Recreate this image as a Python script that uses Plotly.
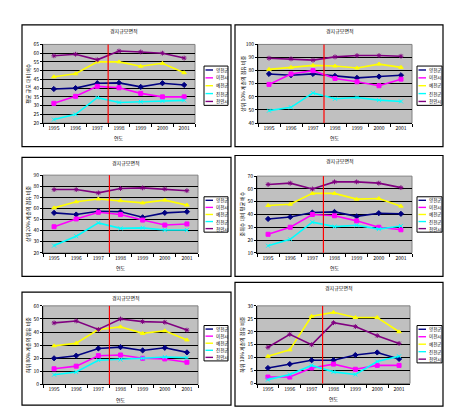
import plotly.graph_objects as go

W, H = 454, 408
FONT = "Noto Sans CJK KR, Noto Sans, sans-serif"

years = ["1995", "1996", "1997", "1998", "1999", "2000", "2001"]
regions = ["양천군", "이천시", "예천군", "진천군", "천안시"]
colors = ["#000080", "#FF00FF", "#FFFF00", "#00FFFF", "#800080"]
symbols = ["diamond", "square", "triangle-up", "x-thin", "asterisk"]

titles = ["경지규모면적", "경지규모면적", "경지규모면적", "경지규모면적", "경지규모면적", "경지규모면적"]
ytitles = ["평균 규모 대비 배수", "상위 10% 계층의 점유 비중", "상위 20% 계층의 점유 비중",
           "중위수 대비 평균 배수", "하위 80% 계층의 점유 비중", "하위 10% 계층의 점유 비중"]
xtitle = "연도"

# panel 1
p1 = [[39.5, 40, 42.8, 43, 40.7, 42.8, 41.8],
      [31.3, 35.3, 41, 40.2, 37, 35, 35],
      [46.5, 48.2, 55, 55, 52.5, 54.2, 48.8],
      [22, 25, 34.5, 31.8, 32.2, 32.6, 33],
      [58.5, 59.4, 56.2, 61.2, 60.7, 60, 57.2]]
# panel 2
p2 = [[77.5, 76.5, 77.5, 76, 74.5, 75.5, 76.5],
      [69.5, 77.5, 80, 74, 71.5, 68.5, 73.5],
      [81, 82.5, 84, 83.5, 82, 85, 82.5],
      [49.5, 52, 63, 58.5, 59.5, 57.5, 56.5],
      [89.5, 89, 88, 90.5, 91.5, 91.5, 91]]
# panel 3
p3 = [[56, 54.5, 57.5, 57, 52, 56, 57],
      [43.5, 50.5, 56.5, 54.5, 49.5, 45, 46],
      [60.5, 66, 68.5, 67, 65, 67.5, 63],
      [26.5, 35, 47, 42, 42.5, 40.5, 40.5],
      [77, 77, 74, 78, 78.5, 77.5, 76]]
# panel 4
p4 = [[36.5, 38, 41.5, 42, 38.5, 41, 40.5],
      [24.5, 30, 40, 39, 35, 30, 28],
      [47, 48, 56.5, 56.5, 52, 52.5, 46.5],
      [15.5, 20.5, 34, 30.5, 31.5, 28.5, 31],
      [63.5, 64.5, 60, 65.5, 65.5, 64.5, 61]]
# panel 5
p5 = [[20, 22, 27.5, 28.5, 26, 28, 24.5],
      [12, 14, 22, 22.5, 20, 19.5, 17],
      [29.5, 31.5, 42, 44, 39, 41, 34],
      [7.5, 9.5, 18.5, 19, 20, 21, 20.5],
      [47, 48.5, 42, 50, 48, 47.5, 41.5]]
# panel 6
p6 = [[6, 7.5, 9, 9, 11, 12, 9.5],
      [2.5, 2.5, 6, 7.5, 5.5, 7, 7],
      [10.5, 13, 26, 27.5, 25.5, 25.5, 20],
      [1.5, 3.5, 7, 4.5, 3.5, 8.5, 10.5],
      [14, 19, 15, 23.5, 22, 18.5, 15.5]]

panel_data = [p1, p2, p3, p4, p5, p6]
yranges = [(20, 65, 5), (40, 100, 10), (20, 90, 10), (10, 70, 10), (0, 60, 10), (0, 30, 5)]

# layout geometry (pixels)
plot_px = [(35, 187, 33, 113), (250, 404, 33, 113),
           (35, 190, 166, 245), (249, 404, 167, 245),
           (35, 190, 299, 379), (249, 402, 299, 378)]
box_px = [(14, 223, 13, 137), (227, 435, 13, 137),
          (14, 223, 148, 269), (227, 435, 146, 269),
          (14, 223, 285, 400), (227, 435, 275, 401)]
legend_px = [(196, 220, 55, 95), (409, 434, 55, 95),
             (196, 220, 188, 224), (409, 434, 188, 224),
             (196, 220, 319, 355), (409, 434, 319, 357)]


def fx(p):
    return p / W


def fy(p):
    return 1 - p / H


fig = go.Figure()
shapes = []
annotations = []
layout = {}

for i in range(6):
    n = i + 1
    xa = "x" if n == 1 else f"x{n}"
    ya = "y" if n == 1 else f"y{n}"
    xkey = "xaxis" if n == 1 else f"xaxis{n}"
    ykey = "yaxis" if n == 1 else f"yaxis{n}"
    x0, x1, y0, y1 = plot_px[i]
    bx0, bx1, by0, by1 = box_px[i]
    ymin, ymax, dt = yranges[i]

    # outer chart box
    shapes.append(dict(type="rect", xref="paper", yref="paper",
                       x0=fx(bx0), x1=fx(bx1), y0=fy(by1), y1=fy(by0),
                       line=dict(color="black", width=1.2), fillcolor="white", layer="below"))
    # plot area
    shapes.append(dict(type="rect", xref="paper", yref="paper",
                       x0=fx(x0), x1=fx(x1), y0=fy(y1), y1=fy(y0),
                       line=dict(color="#808080", width=1), fillcolor="#C0C0C0", layer="below"))

    for k in range(5):
        fig.add_trace(go.Scatter(
            x=years, y=panel_data[i][k], xaxis=xa, yaxis=ya,
            mode="lines+markers", name=regions[k], showlegend=False,
            line=dict(color=colors[k], width=1.6),
            marker=dict(symbol=symbols[k], size=4, color=colors[k],
                        line=dict(color=colors[k], width=1)),
            cliponaxis=False))

    layout[xkey] = dict(domain=[fx(x0), fx(x1)], anchor=ya, type="category",
                        range=[-0.5, 6.5], showgrid=False, showline=True,
                        linecolor="black", linewidth=1, ticks="outside", ticklen=3,
                        tickson="boundaries", tickcolor="black",
                        tickfont=dict(size=5, family=FONT, color="black"),
                        fixedrange=True, zeroline=False)
    layout[ykey] = dict(domain=[fy(y1), fy(y0)], anchor=xa, range=[ymin, ymax],
                        dtick=dt, tick0=ymin, showgrid=True, gridcolor="black",
                        gridwidth=1, showline=True, linecolor="black", linewidth=1,
                        ticks="outside", ticklen=2, tickcolor="black",
                        tickfont=dict(size=5, family=FONT, color="black"),
                        fixedrange=True, zeroline=False)

    # red divider between 1997 and 1998
    shapes.append(dict(type="line", xref=xa, yref=f"{ya} domain",
                       x0=2.5, x1=2.5, y0=0, y1=1,
                       line=dict(color="#FF0000", width=1.2)))

    # title
    annotations.append(dict(text=titles[i], xref="paper", yref="paper",
                            x=fx((x0 + x1) / 2 + 5), y=fy(by0 + 6), showarrow=False,
                            font=dict(size=5, family=FONT, color="black"),
                            xanchor="center", yanchor="middle"))
    # x title
    annotations.append(dict(text=xtitle, xref="paper", yref="paper",
                            x=fx((x0 + x1) / 2), y=fy(y1 + 15), showarrow=False,
                            font=dict(size=5, family=FONT, color="black"),
                            xanchor="center", yanchor="middle"))
    # y title
    annotations.append(dict(text=ytitles[i], xref="paper", yref="paper",
                            x=fx(x0 - 15), y=fy((y0 + y1) / 2), showarrow=False,
                            textangle=-90,
                            font=dict(size=5, family=FONT, color="black"),
                            xanchor="center", yanchor="middle"))

    # custom compact legend
    lx0, lx1, ly0, ly1 = legend_px[i]
    shapes.append(dict(type="rect", xref="paper", yref="paper",
                       x0=fx(lx0), x1=fx(lx1), y0=fy(ly1), y1=fy(ly0),
                       line=dict(color="black", width=1), fillcolor="white"))
    step = (ly1 - ly0) / 5
    for k in range(5):
        cy = ly0 + step * (k + 0.5)
        shapes.append(dict(type="line", xref="paper", yref="paper",
                           x0=fx(lx0 + 1.5), x1=fx(lx0 + 9), y0=fy(cy), y1=fy(cy),
                           line=dict(color=colors[k], width=1.4)))
        annotations.append(dict(text=regions[k], xref="paper", yref="paper",
                                x=fx(lx0 + 9.5), y=fy(cy), showarrow=False,
                                font=dict(size=4.5, family=FONT, color="black"),
                                xanchor="left", yanchor="middle"))

# legend markers on an overlay axis spanning the page
leg_x, leg_y, leg_c, leg_s = [], [], [], []
for i in range(6):
    lx0, lx1, ly0, ly1 = legend_px[i]
    step = (ly1 - ly0) / 5
    for k in range(5):
        leg_x.append(lx0 + 5.25)
        leg_y.append(ly0 + step * (k + 0.5))
        leg_c.append(colors[k])
        leg_s.append(symbols[k])
fig.add_trace(go.Scatter(x=leg_x, y=leg_y, xaxis="x7", yaxis="y7", mode="markers",
                         showlegend=False, hoverinfo="skip",
                         marker=dict(symbol=leg_s, size=3.5, color=leg_c,
                                     line=dict(color=leg_c, width=1))))
layout["xaxis7"] = dict(domain=[0, 1], range=[0, W], visible=False, anchor="y7", fixedrange=True)
layout["yaxis7"] = dict(domain=[0, 1], range=[H, 0], visible=False, anchor="x7", fixedrange=True)

fig.update_layout(**layout)
fig.update_layout(width=W, height=H, margin=dict(l=0, r=0, t=0, b=0),
                  paper_bgcolor="white", plot_bgcolor="rgba(0,0,0,0)",
                  shapes=shapes, annotations=annotations, showlegend=False,
                  font=dict(family=FONT, size=5, color="black"))

fig.write_html("out.html", config={"displayModeBar": False})
